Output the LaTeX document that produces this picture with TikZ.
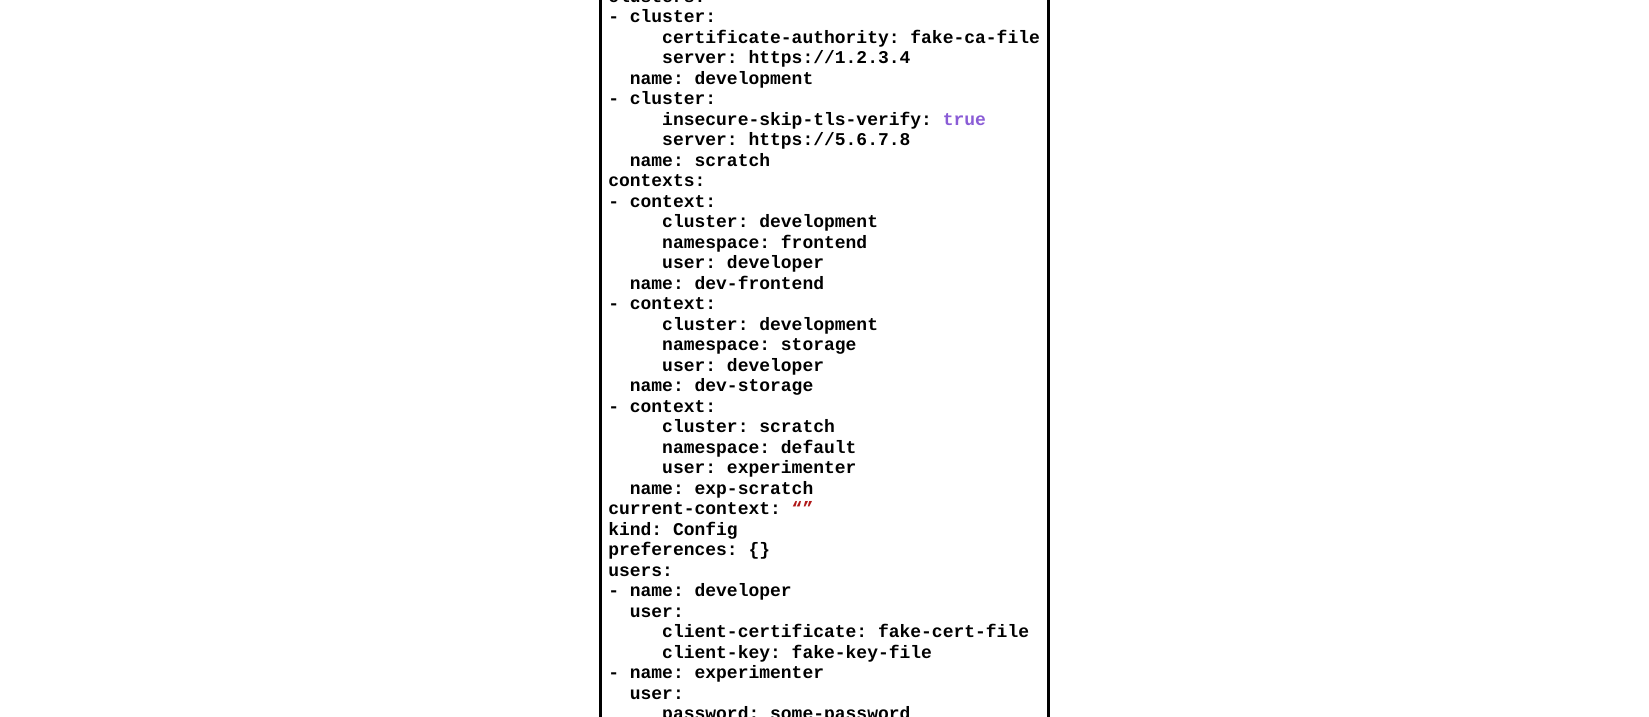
\documentclass[tikz,border=0pt]{standalone}
\usepackage{fontspec}
\setmonofont{Liberation Mono}
\definecolor{truecol}{HTML}{8A5CD6}
\definecolor{quotecol}{HTML}{B01818}
\tikzset{
    ymltext/.style={anchor=base west, inner sep=0pt, font=\ttfamily\bfseries\fontsize{8.55pt}{10pt}\selectfont},
    frame/.style={line width=1.5pt}
}
\newcommand\ymlline[3]{\node[ymltext] (l#1) at ({578+#2*10.26}, {#1*19.5+2}) {#3};}

\begin{document}
\begin{tikzpicture}[x=0.5pt, y=-0.5pt]
\useasboundingbox (0,0) rectangle (1568,681);
\clip (0,0) rectangle (1568,681);
% frame
\draw[frame] (571,-20) -- (571,700);
\draw[frame] (997,-20) -- (997,700);

% lines
\ymlline{0}{0}{clusters:}
\ymlline{1}{0}{- cluster:}
\ymlline{2}{5}{certificate-authority: fake-ca-file}
\ymlline{3}{5}{server: https://1.2.3.4}
\ymlline{4}{2}{name: development}
\ymlline{5}{0}{- cluster:}
\ymlline{6}{5}{insecure-skip-tls-verify: \textcolor{truecol}{true}}
\ymlline{7}{5}{server: https://5.6.7.8}
\ymlline{8}{2}{name: scratch}
\ymlline{9}{0}{contexts:}
\ymlline{10}{0}{- context:}
\ymlline{11}{5}{cluster: development}
\ymlline{12}{5}{namespace: frontend}
\ymlline{13}{5}{user: developer}
\ymlline{14}{2}{name: dev-frontend}
\ymlline{15}{0}{- context:}
\ymlline{16}{5}{cluster: development}
\ymlline{17}{5}{namespace: storage}
\ymlline{18}{5}{user: developer}
\ymlline{19}{2}{name: dev-storage}
\ymlline{20}{0}{- context:}
\ymlline{21}{5}{cluster: scratch}
\ymlline{22}{5}{namespace: default}
\ymlline{23}{5}{user: experimenter}
\ymlline{24}{2}{name: exp-scratch}
\ymlline{25}{0}{current-context: \textcolor{quotecol}{“”}}
\ymlline{26}{0}{kind: Config}
\ymlline{27}{0}{preferences: \{\}}
\ymlline{28}{0}{users:}
\ymlline{29}{0}{- name: developer}
\ymlline{30}{2}{user:}
\ymlline{31}{5}{client-certificate: fake-cert-file}
\ymlline{32}{5}{client-key: fake-key-file}
\ymlline{33}{0}{- name: experimenter}
\ymlline{34}{2}{user:}
\ymlline{35}{5}{password: some-password}

\end{tikzpicture}
\end{document}
